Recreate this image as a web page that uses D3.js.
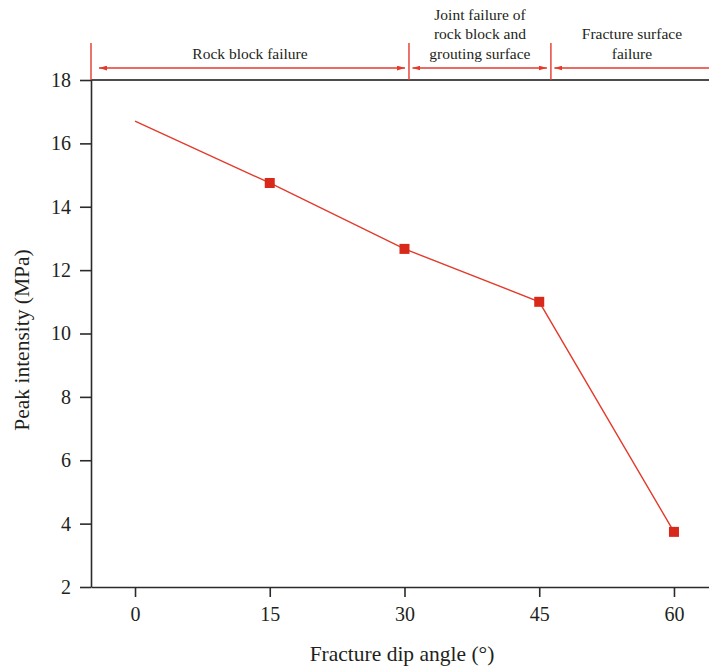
<!DOCTYPE html>
<html>
<head>
<meta charset="utf-8">
<script src="https://cdn.jsdelivr.net/npm/d3@7"></script>
<style>
  html, body { margin: 0; padding: 0; background: #fff; }
  svg { display: block; }
  text { font-family: "Liberation Serif", "DejaVu Serif", serif; fill: #231f20; }
</style>
</head>
<body>
<svg id="chart" width="709" height="667"></svg>
<script>
// ---- data ----
const angles = [0, 15, 30, 45, 60];
const peakIntensity = [16.7, 14.75, 12.67, 11.0, 3.74];
const showMarker = [false, true, true, true, true];
const xTickValues = [0, 15, 30, 45, 60];
const yTickValues = [2, 4, 6, 8, 10, 12, 14, 16, 18];
const regionBounds = [-4.9, 30.5, 46.3, 63.9];
const regionLabels = [
  ["Rock block failure"],
  ["Joint failure of", "rock block and", "grouting surface"],
  ["Fracture surface", "failure"]
];
const xTitle = "Fracture dip angle (°)";
const yTitle = "Peak intensity (MPa)";

(function () {
// ---- layout ----
const W = 709, H = 667;
const mLeft = 91, mRight = 709, mTop = 80, mBottom = 587;
const svg = d3.select("#chart");

const x = d3.scaleLinear().domain([-4.9, 63.9]).range([mLeft, mRight]);
const y = d3.scaleLinear().domain([2, 18]).range([mBottom, mTop]);

const axisColor = "#2b2b2b";
const red = "#e33a2c";
const markerRed = "#d9291b";

// x axis
const gx = svg.append("g").attr("transform", `translate(0,${mBottom})`)
  .call(d3.axisBottom(x).tickValues(xTickValues).tickSize(10).tickPadding(10).tickSizeOuter(0));
gx.select(".domain").attr("stroke", axisColor).attr("stroke-width", 1.6);
gx.selectAll(".tick line").attr("stroke", axisColor).attr("stroke-width", 1.6);
gx.selectAll(".tick text").attr("font-size", 20).attr("fill", "#231f20");

// y axis
const gy = svg.append("g").attr("transform", `translate(${mLeft},0)`)
  .call(d3.axisLeft(y).tickValues(yTickValues).tickSize(11).tickPadding(9).tickSizeOuter(0));
gy.select(".domain").attr("stroke", axisColor).attr("stroke-width", 1.6);
gy.selectAll(".tick line").attr("stroke", axisColor).attr("stroke-width", 1.6);
gy.selectAll(".tick text").attr("font-size", 20).attr("fill", "#231f20");

// top frame line
svg.append("line")
  .attr("x1", mLeft).attr("x2", mRight)
  .attr("y1", y(18)).attr("y2", y(18))
  .attr("stroke", "#111").attr("stroke-width", 1.6);

// axis titles
svg.append("text")
  .attr("x", 402).attr("y", 661)
  .attr("text-anchor", "middle").attr("font-size", 21.5)
  .text(xTitle);
svg.append("text")
  .attr("transform", `translate(29,340) rotate(-90)`)
  .attr("text-anchor", "middle").attr("font-size", 21.5)
  .text(yTitle);

// region boundaries and arrows
const defs = svg.append("defs");
defs.append("marker").attr("id", "ah").attr("viewBox", "0 0 10 6")
  .attr("refX", 10).attr("refY", 3).attr("markerWidth", 8).attr("markerHeight", 5)
  .attr("markerUnits", "userSpaceOnUse").attr("orient", "auto-start-reverse")
  .append("path").attr("d", "M0,0 L10,3 L0,6 Z").attr("fill", red);

const arrowY = 68;
regionBounds.slice(0, 3).forEach((b) => {
  svg.append("line")
    .attr("x1", x(b)).attr("x2", x(b))
    .attr("y1", 43).attr("y2", y(18))
    .attr("stroke", red).attr("stroke-width", 1.4);
});
regionLabels.forEach((lines, i) => {
  const x0 = x(regionBounds[i]) + (i === 0 ? 8 : 3.5);
  const last = i === regionLabels.length - 1;
  const x1 = last ? x(regionBounds[i + 1]) + 2 : x(regionBounds[i + 1]) - 4;
  const ln = svg.append("line")
    .attr("x1", x0).attr("x2", x1)
    .attr("y1", arrowY).attr("y2", arrowY)
    .attr("stroke", red).attr("stroke-width", 1.3)
    .attr("marker-start", "url(#ah)");
  if (!last) ln.attr("marker-end", "url(#ah)");
  const cx = (x(regionBounds[i]) + Math.min(x(regionBounds[i + 1]), W)) / 2 + (last ? 2 : 0);
  const n = lines.length;
  lines.forEach((t, k) => {
    svg.append("text")
      .attr("x", cx).attr("y", 58.5 - (n - 1 - k) * 19.5)
      .attr("text-anchor", "middle").attr("font-size", 15.5)
      .text(t);
  });
});

// data line
const pts = angles.map((a, i) => ({ a, v: peakIntensity[i], m: showMarker[i] }));
svg.append("path").datum(pts)
  .attr("d", d3.line().x(d => x(d.a)).y(d => y(d.v)))
  .attr("fill", "none").attr("stroke", red).attr("stroke-width", 1.4);

const ms = 10;
svg.selectAll("rect.mk").data(pts.filter(d => d.m)).enter().append("rect")
  .attr("class", "mk")
  .attr("x", d => x(d.a) - ms / 2).attr("y", d => y(d.v) - ms / 2)
  .attr("width", ms).attr("height", ms)
  .attr("fill", markerRed);
})();
</script>
</body>
</html>
